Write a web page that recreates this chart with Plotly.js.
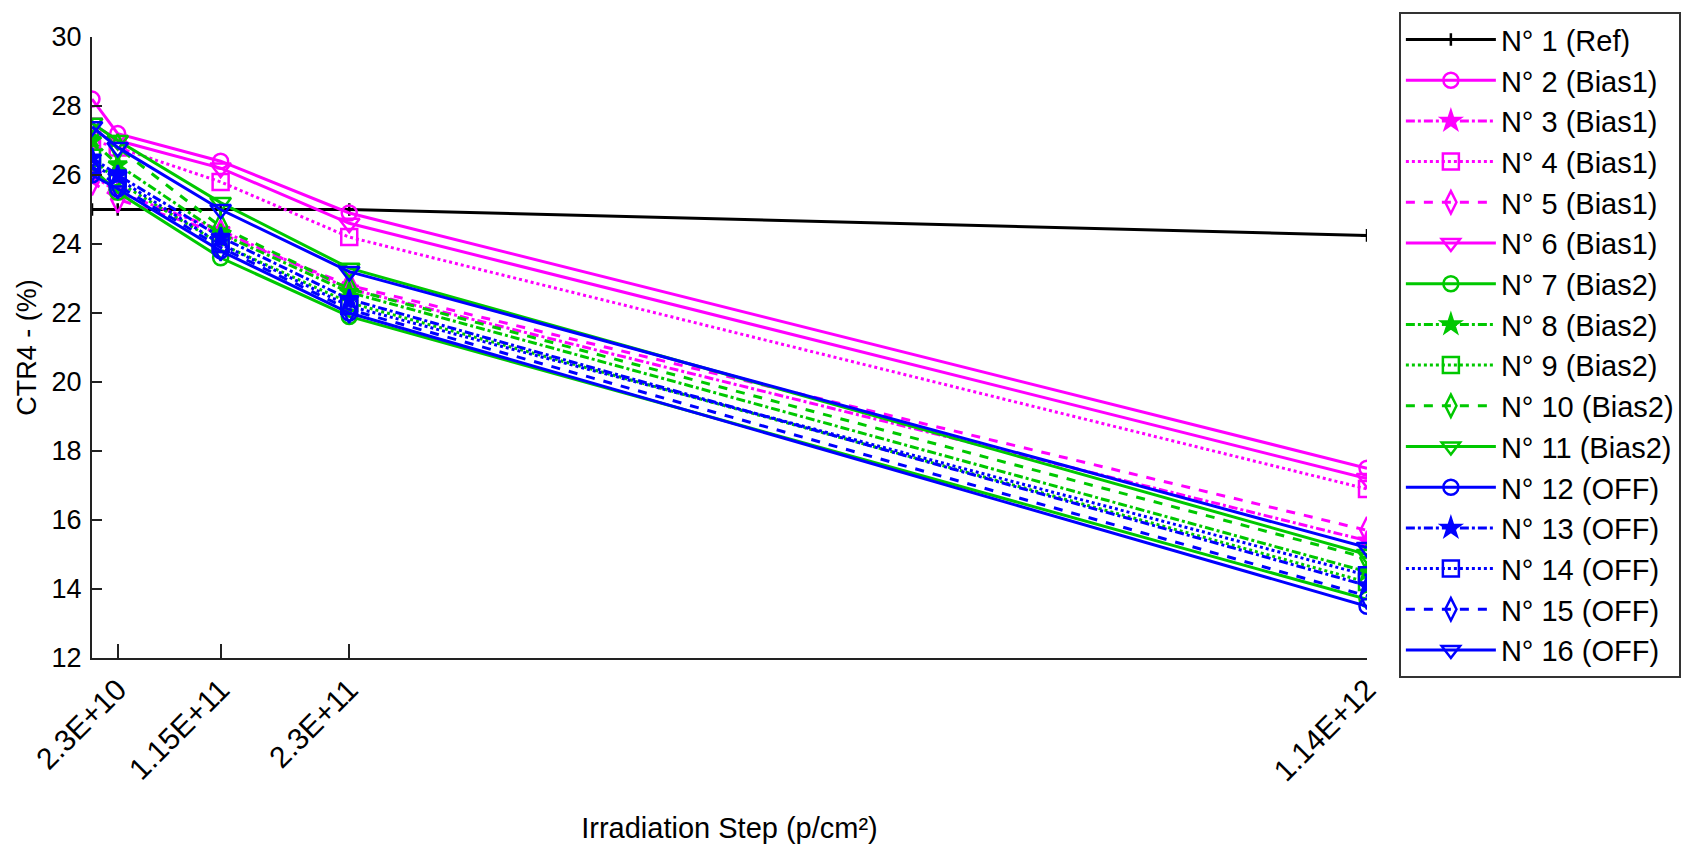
<!DOCTYPE html>
<html>
<head>
<meta charset="utf-8">
<script src="https://cdn.plot.ly/plotly-3.0.1.min.js"></script>
<style>html,body{margin:0;padding:0;background:#fff;}#chart{width:1693px;height:844px;}</style>
</head>
<body>
<div id="chart"></div>
<script>
// Irradiation steps (p/cm²)
const xSteps = [0, 2.3e10, 1.15e11, 2.3e11, 1.14e12];
const tickVals = [2.3e10, 1.15e11, 2.3e11, 1.14e12];
const tickLabels = ["2.3E+10", "1.15E+11", "2.3E+11", "1.14E+12"];

const seriesNames = [
  "N° 1 (Ref)", "N° 2 (Bias1)", "N° 3 (Bias1)", "N° 4 (Bias1)", "N° 5 (Bias1)", "N° 6 (Bias1)",
  "N° 7 (Bias2)", "N° 8 (Bias2)", "N° 9 (Bias2)", "N° 10 (Bias2)", "N° 11 (Bias2)",
  "N° 12 (OFF)", "N° 13 (OFF)", "N° 14 (OFF)", "N° 15 (OFF)", "N° 16 (OFF)"
];

// CTR4 (%) values
const n1  = [25.0, 25.0, 25.0, 25.0, 24.25];
const n2  = [28.2, 27.2, 26.4, 24.9, 17.5];
const n3  = [26.0, 25.5, 24.4, 22.7, 15.4];
const n4  = [27.0, 26.8, 25.8, 24.2, 16.9];
const n5  = [25.8, 25.3, 24.3, 22.8, 15.7];
const n6  = [27.5, 27.0, 26.2, 24.6, 17.2];
const n7  = [26.2, 25.5, 23.6, 21.9, 13.7];
const n8  = [27.0, 26.3, 24.3, 22.6, 14.5];
const n9  = [26.5, 25.8, 24.0, 22.3, 14.2];
const n10 = [27.2, 26.8, 24.5, 22.7, 14.9];
const n11 = [27.5, 27.0, 25.2, 23.3, 15.0];
const n12 = [26.0, 25.6, 23.8, 22.0, 13.5];
const n13 = [26.5, 26.0, 24.2, 22.4, 14.1];
const n14 = [26.3, 25.9, 24.0, 22.2, 14.4];
const n15 = [26.2, 25.7, 23.9, 22.1, 13.8];
const n16 = [27.4, 26.8, 25.0, 23.2, 15.2];
const seriesValues = [n1,n2,n3,n4,n5,n6,n7,n8,n9,n10,n11,n12,n13,n14,n15,n16];

const colorOf = i => i === 0 ? "#000000" : (i <= 5 ? "#ff00ff" : (i <= 10 ? "#00c800" : "#0000ff"));
const styleCycle = [
  {dash: "solid", symbol: "circle-open", size: 15},
  {dash: "dashdot", symbol: "star", size: 14},
  {dash: "dot", symbol: "square-open", size: 16},
  {dash: "dash", symbol: "diamond-tall-open", size: 19},
  {dash: "solid", symbol: "triangle-down-open", size: 18}
];

const traces = seriesValues.map((vals, i) => {
  let st;
  if (i === 0) st = {dash: "solid", symbol: "cross-thin-open", size: 9};
  else st = styleCycle[(i - 1) % 5];
  const c = colorOf(i);
  return {
    type: "scatter", mode: "lines+markers",
    x: xSteps, y: vals, name: seriesNames[i], legendgroup: "g" + i,
    line: {color: c, width: 3, dash: st.dash},
    marker: {symbol: st.symbol, size: st.size, color: c, line: {color: c, width: 2.5}}
  };
});

const layout = {
  width: 1693, height: 844,
  paper_bgcolor: "#ffffff", plot_bgcolor: "#ffffff",
  margin: {l: 92, r: 321, t: 27, b: 186},
  font: {family: "Liberation Sans, Arial, sans-serif", color: "#000"},
  showlegend: true,
  legend: {
    x: 1.025, y: 1.04, xanchor: "left", yanchor: "top",
    bordercolor: "#333", borderwidth: 2, bgcolor: "#fff",
    font: {size: 29, family: "Liberation Sans, Arial, sans-serif", color: "#000"},
    itemwidth: 90, tracegroupgap: 3, traceorder: "normal", maxheight: 844
  },
  xaxis: {
    range: [0, 1.14e12], tickmode: "array", tickvals: tickVals, ticktext: tickLabels,
    tickangle: -45, ticks: "inside", ticklen: 14, tickwidth: 2, tickcolor: "#222",
    showline: true, linecolor: "#222", linewidth: 2, showgrid: false, zeroline: false,
    tickfont: {size: 30},
    title: {text: "Irradiation Step (p/cm²)", font: {size: 29}, standoff: 36}
  },
  yaxis: {
    range: [12, 30], dtick: 2, tick0: 12,
    ticks: "inside", ticklen: 10, tickwidth: 2, tickcolor: "#222",
    showline: true, linecolor: "#222", linewidth: 2, showgrid: false, zeroline: false,
    tickfont: {size: 27}, ticklabelstandoff: 3,
    title: {text: "CTR4 - (%)", font: {size: 27}, standoff: 7}
  }
};

Plotly.newPlot("chart", traces, layout, {displayModeBar: false, staticPlot: true});
</script>
</body>
</html>
